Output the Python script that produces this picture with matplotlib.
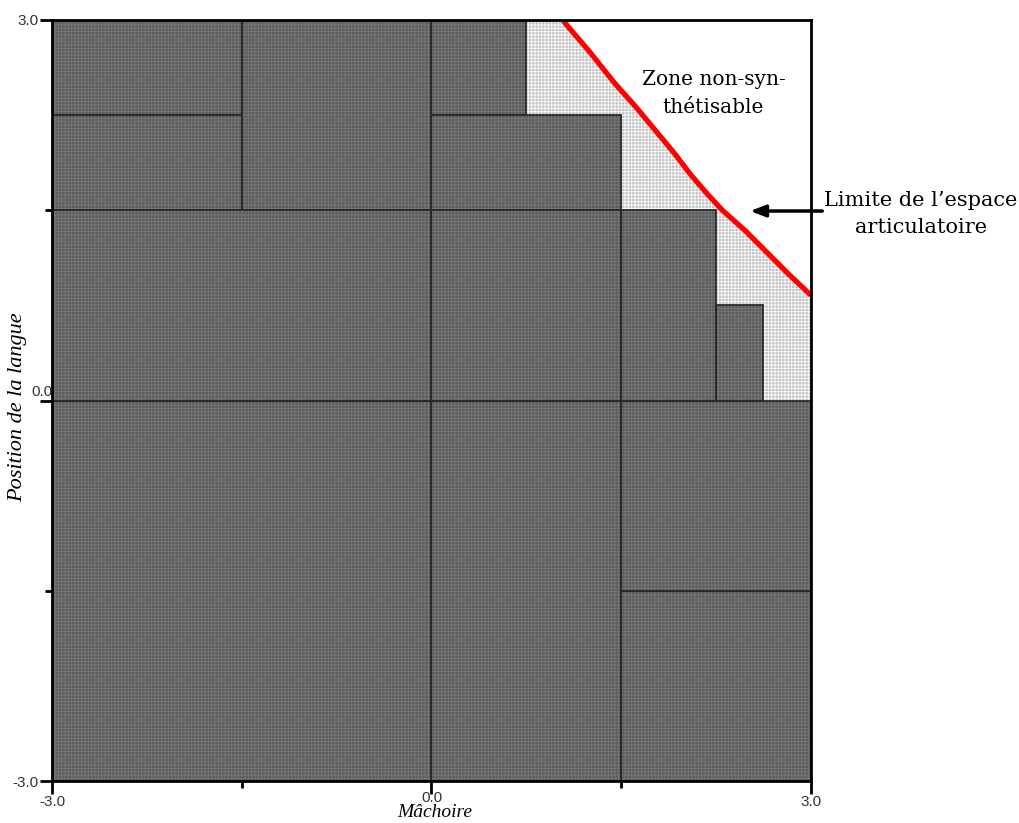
import matplotlib
matplotlib.use("Agg")
import matplotlib.pyplot as plt
from matplotlib.patches import Rectangle, Polygon
from matplotlib.transforms import ScaledTranslation

# dark cells: (x0, y0, width, height)
cells = [
    (-3.0, 2.25, 1.5, 0.75),
    (-3.0, 1.5, 1.5, 0.75),
    (-1.5, 1.5, 1.5, 1.5),
    (0.0, 2.25, 0.75, 0.75),
    (0.0, 1.5, 1.5, 0.75),
    (-3.0, 0.0, 3.0, 1.5),
    (0.0, 0.0, 1.5, 1.5),
    (1.5, 0.0, 0.75, 1.5),
    (2.25, 0.0, 0.375, 0.75),
    (-3.0, -3.0, 3.0, 3.0),
    (0.0, -3.0, 1.5, 3.0),
    (1.5, -1.5, 1.5, 1.5),
    (1.5, -3.0, 1.5, 1.5),
]

# limit of articulatory space (red line)
lim_x = [1.04, 1.07, 1.25, 1.45, 1.62, 1.77, 1.92, 2.05, 2.18, 2.30, 2.48, 2.65, 2.82, 3.0]
lim_y = [3.0, 2.96, 2.75, 2.50, 2.31, 2.13, 1.95, 1.78, 1.63, 1.50, 1.34, 1.17, 1.00, 0.83]

major_ticks = [-3.0, 0.0, 3.0]
major_labels = ["-3.0", "0.0", "3.0"]
minor_ticks = [-1.5, 1.5]

fig = plt.figure(figsize=(10.2, 8.23), dpi=100)
ax = fig.add_axes([0.051, 0.051, 0.744, 0.9247])
ax.set_xlim(-3, 3)
ax.set_ylim(-3, 3)

plt.rcParams['hatch.linewidth'] = 0.6

# light zone under the limit line
poly = [(0.75, 3.0)] + list(zip(lim_x, lim_y)) + [(3.0, 0.0), (0.75, 0.0)]
ax.add_patch(Polygon(poly, closed=True, facecolor="#c2c2c2", edgecolor="none", zorder=1))
ax.add_patch(Polygon(poly, closed=True, facecolor="none", edgecolor="white",
                     hatch="+++++", linewidth=0, zorder=1.1))

for (x0, y0, w, h) in cells:
    ax.add_patch(Rectangle((x0, y0), w, h, facecolor="#5c5c5c", edgecolor="none", zorder=2))
    ax.add_patch(Rectangle((x0, y0), w, h, facecolor="none", edgecolor="#777777",
                           hatch="+++++", linewidth=0, zorder=2.1))
    ax.add_patch(Rectangle((x0, y0), w, h, facecolor="none", edgecolor="#2a2a2a",
                           linewidth=1.3, zorder=2.2))

ax.plot(lim_x, lim_y, color="#ff0000", linewidth=3.8, zorder=3, solid_capstyle="butt")

for s in ax.spines.values():
    s.set_linewidth(2)
    s.set_zorder(5)

ax.set_xticks(major_ticks)
ax.set_xticklabels(major_labels)
ax.set_yticks(major_ticks)
ax.set_yticklabels(major_labels)
ax.set_xticks(minor_ticks, minor=True)
ax.set_yticks(minor_ticks, minor=True)
ax.tick_params(which="major", direction="out", length=9, width=2, labelsize=11, pad=1,
               labelcolor="#333333")
ax.tick_params(which="minor", direction="out", length=5, width=2)
for lab in ax.get_xticklabels() + ax.get_yticklabels():
    lab.set_family("Liberation Sans")

# the 0.0 labels sit closer to their ticks in the original
lab0 = ax.get_yticklabels()[1]
lab0.set_transform(lab0.get_transform() + ScaledTranslation(0.14, 0.10, fig.dpi_scale_trans))
labx0 = ax.get_xticklabels()[1]
labx0.set_transform(labx0.get_transform() + ScaledTranslation(0.0, 0.04, fig.dpi_scale_trans))

ax.set_xlabel("Mâchoire", family="Liberation Serif", style="italic", fontsize=14, va="center")
ax.set_ylabel("Position de la langue", family="Liberation Serif", style="italic",
              fontsize=16)
ax.xaxis.set_label_coords(0.5046, -0.041)
ax.yaxis.set_label_coords(-0.033, 0.491)

ax.text(2.23, 2.42, "Zone non-syn-\nthétisable", family="DejaVu Serif", fontsize=14.5,
        ha="center", va="center", linespacing=1.55, zorder=6)
ax.text(3.87, 1.47, "Limite de l\u2019espace\narticulatoire",
        family="DejaVu Serif", fontsize=15, ha="center", va="center",
        linespacing=1.55, clip_on=False, zorder=6)
ax.annotate("", xy=(2.52, 1.494), xytext=(3.09, 1.494), annotation_clip=False,
            arrowprops=dict(arrowstyle="-|>,head_length=0.9,head_width=0.35",
                            color="black", lw=2.5, shrinkA=0, shrinkB=0))

fig.savefig("out.png", dpi=100)
